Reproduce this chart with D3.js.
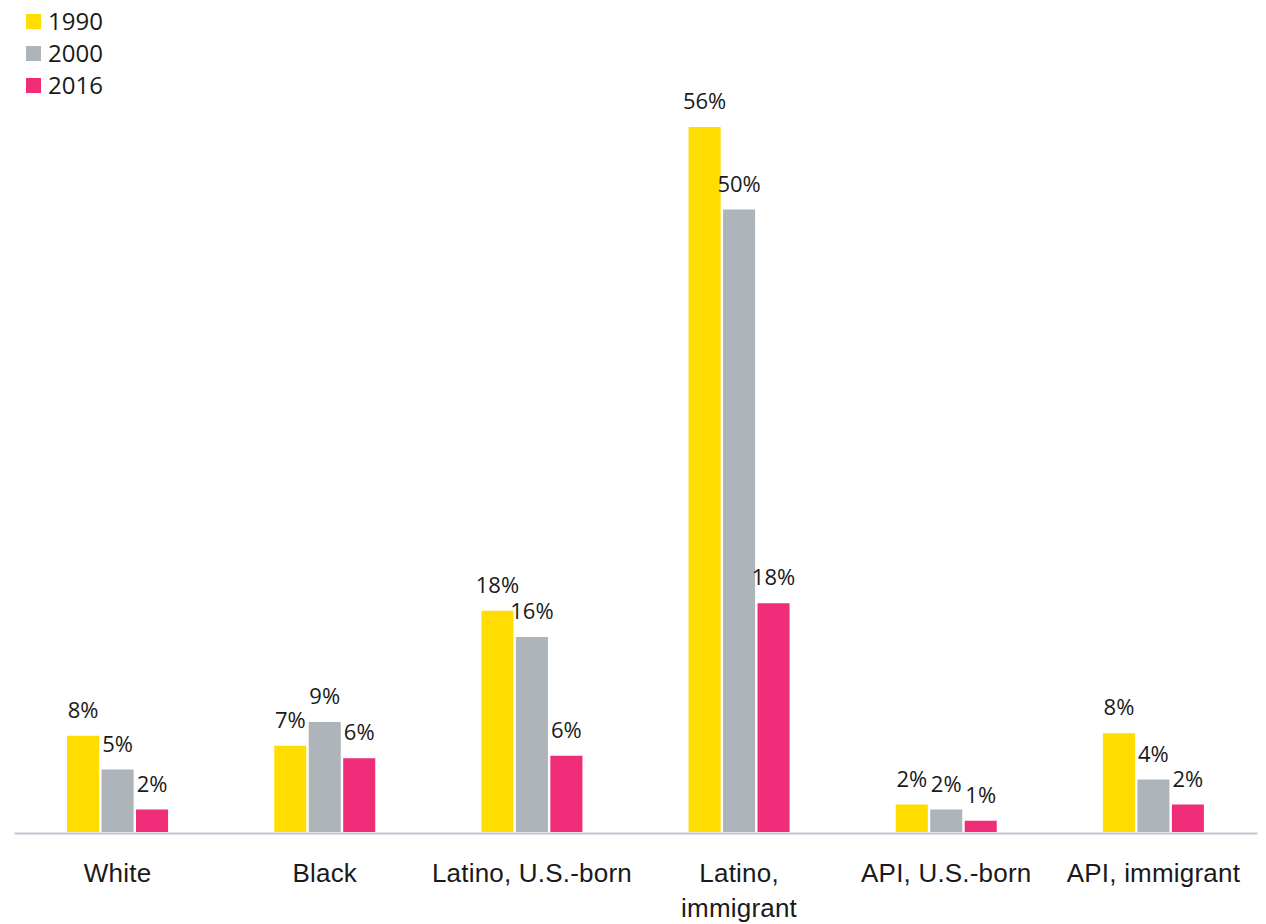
<!DOCTYPE html>
<html>
<head>
<meta charset="utf-8">
<script src="https://cdn.jsdelivr.net/npm/d3@7"></script>
<style>
  html, body { margin: 0; padding: 0; background: #fff; }
  svg { display: block; font-family: "Open Sans", "Noto Sans", sans-serif; }
</style>
</head>
<body>
<svg id="chart" width="1266" height="924"></svg>
<script>
const categories = ["White", "Black", "Latino, U.S.-born", "Latino, immigrant", "API, U.S.-born", "API, immigrant"];
const years = ["1990", "2000", "2016"];
const values1990 = [7.7, 6.9, 17.7, 56.4, 2.2, 7.9];
const values2000 = [5.0, 8.8, 15.6, 49.8, 1.8, 4.2];
const values2016 = [1.8, 5.9, 6.1, 18.3, 0.9, 2.2];
const colors = ["#FFDD00", "#ADB5BB", "#F02D78"];

const series = [values1990, values2000, values2016];
const data = categories.map((c, i) => ({
  category: c,
  bars: years.map((y, j) => ({ year: y, value: series[j][i] }))
}));

const svg = d3.select("#chart");
const baseY = 832;

const x0 = d3.scaleBand().domain(categories).range([14, 1257]).padding(0);
const groupW = 101;
const x1 = d3.scaleBand().domain(years)
  .range([x0.bandwidth() / 2 - groupW / 2, x0.bandwidth() / 2 + groupW / 2])
  .paddingInner(0.07);
const y = d3.scaleLinear().domain([0, 60]).range([baseY, 82]);
const color = d3.scaleOrdinal().domain(years).range(colors);

const groups = svg.append("g").selectAll("g")
  .data(data).join("g")
  .attr("transform", d => `translate(${x0(d.category)},0)`);

groups.selectAll("rect")
  .data(d => d.bars).join("rect")
  .attr("x", d => x1(d.year))
  .attr("y", d => y(d.value))
  .attr("width", x1.bandwidth())
  .attr("height", d => y(0) - y(d.value))
  .attr("fill", d => color(d.year));

groups.selectAll("text.val")
  .data(d => d.bars).join("text")
  .attr("class", "val")
  .attr("x", d => x1(d.year) + x1.bandwidth() / 2)
  .attr("y", d => y(d.value) - 18)
  .attr("text-anchor", "middle")
  .attr("font-size", 22)
  .attr("fill", "#1a1a1a")
  .text(d => Math.round(d.value) + "%");

// x axis
const axis = svg.append("g")
  .attr("transform", `translate(0,${baseY + 1})`)
  .call(d3.axisBottom(x0).tickSize(0).tickSizeOuter(0).tickFormat(""));
axis.select(".domain").attr("stroke", "#BFC6CD").attr("stroke-width", 2);

// category labels with wrapping
axis.selectAll(".tick text").remove();
axis.selectAll(".tick").each(function(d) {
  const t = d3.select(this).append("text")
    .attr("text-anchor", "middle")
    .attr("font-size", 26)
    .attr("letter-spacing", 0.2)
    .attr("fill", "#1a1a1a")
    .attr("y", 49);
  const words = d.split(" ");
  let line = [];
  let tspan = t.append("tspan").attr("x", 0).attr("dy", 0);
  for (const w of words) {
    line.push(w);
    tspan.text(line.join(" "));
    if (tspan.node().getComputedTextLength() > 202 && line.length > 1) {
      line.pop();
      tspan.text(line.join(" "));
      line = [w];
      tspan = t.append("tspan").attr("x", 0).attr("dy", 35).text(w);
    }
  }
});

// legend
const legend = svg.append("g").selectAll("g")
  .data(years).join("g")
  .attr("transform", (d, i) => `translate(26,${14 + i * 32})`);
legend.append("rect")
  .attr("width", 15).attr("height", 15)
  .attr("fill", d => color(d));
legend.append("text")
  .attr("x", 22).attr("y", 7.5).attr("dy", "0.35em")
  .attr("font-size", 24)
  .attr("fill", "#1a1a1a")
  .text(d => d);
</script>
</body>
</html>
